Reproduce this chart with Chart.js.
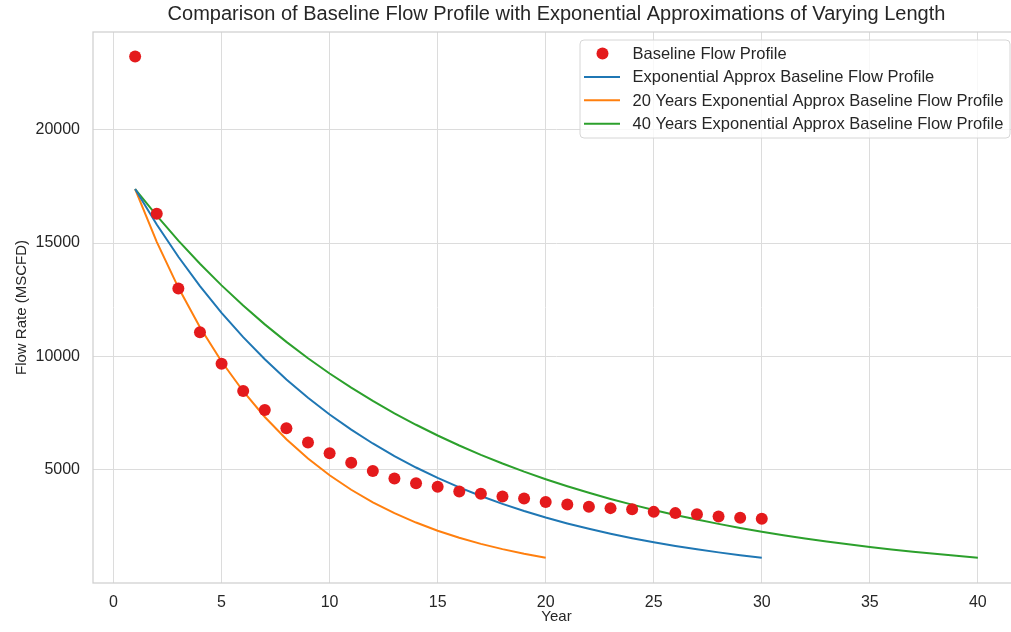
<!DOCTYPE html>
<html>
<head>
<meta charset="utf-8">
<script src="https://cdn.jsdelivr.net/npm/chart.js@4/dist/chart.umd.min.js"></script>
<style>
  html, body { margin: 0; padding: 0; background: #fff; overflow: hidden; }
  #wrap { width: 1026px; height: 632px; }
</style>
</head>
<body>
<div id="wrap"><canvas id="chart" width="1026" height="632"></canvas></div>
<script>
// values
const baselineYears = [1, 2, 3, 4, 5, 6, 7, 8, 9, 10, 11, 12, 13, 14, 15, 16, 17, 18, 19, 20,
  21, 22, 23, 24, 25, 26, 27, 28, 29, 30];
const baselineFlow = [23225, 16290, 13000, 11065, 9680, 8480, 7645, 6840, 6205, 5735,
  5310, 4955, 4620, 4415, 4255, 4045, 3945, 3825, 3740, 3580,
  3475, 3375, 3315, 3270, 3150, 3095, 3050, 2945, 2890, 2845];

const approxYears = [1, 2, 3, 4, 5, 6, 7, 8, 9, 10, 11, 12, 13, 14, 15, 16, 17, 18, 19, 20,
  21, 22, 23, 24, 25, 26, 27, 28, 29, 30, 31, 32, 33, 34, 35, 36, 37, 38, 39, 40];

const approxFlow = [17380, 15817, 14394, 13100, 11922, 10850, 9874, 8986, 8178, 7442,
  6773, 6164, 5610, 5105, 4646, 4228, 3848, 3502, 3187, 2900,
  2640, 2402, 2186, 1990, 1811, 1648, 1500, 1365, 1242, 1130];
const approx20Flow = [17380, 15052, 13035, 11289, 9777, 8467, 7333, 6350, 5500, 4763,
  4125, 3572, 3094, 2679, 2320, 2010, 1740, 1507, 1305, 1130];
const approx40Flow = [17380, 16204, 15107, 14085, 13132, 12243, 11414, 10642, 9922, 9250,
  8624, 8040, 7496, 6989, 6516, 6075, 5664, 5281, 4923, 4590,
  4280, 3990, 3720, 3468, 3234, 3015, 2811, 2621, 2443, 2278,
  2124, 1980, 1846, 1721, 1605, 1496, 1395, 1300, 1212, 1130];

const xTicks = [0, 5, 10, 15, 20, 25, 30, 35, 40];
const yTicks = [5000, 10000, 15000, 20000];

const FONT = '"Liberation Sans", Arial, sans-serif';
const TEXT = '#262626';
const GRID = '#dcdcdc';

function toPoints(xs, ys) {
  return ys.map((y, i) => ({ x: xs[i], y }));
}

// matplotlib-style frame round the plot area
const framePlugin = {
  id: 'frame',
  beforeDatasetsDraw(chart) {
    const { ctx, chartArea: a } = chart;
    ctx.save();
    ctx.strokeStyle = '#cfcfcf';
    ctx.lineWidth = 1.25;
    ctx.strokeRect(a.left, a.top, a.right - a.left, a.bottom - a.top);
    ctx.restore();
  }
};

// legend drawn inside the plot, upper right
const innerLegend = {
  id: 'innerLegend',
  afterDraw(chart) {
    const { ctx, chartArea: a } = chart;
    const w = 430, h = 98;
    const left = a.right - 10 - w;
    const top = a.top + 8;
    ctx.save();
    ctx.beginPath();
    ctx.roundRect(left, top, w, h, 4);
    ctx.fillStyle = 'rgba(255,255,255,0.8)';
    ctx.fill();
    ctx.strokeStyle = '#d6d6d6';
    ctx.lineWidth = 1;
    ctx.stroke();

    ctx.font = '16.5px ' + FONT;
    ctx.textBaseline = 'middle';
    chart.data.datasets.forEach((ds, i) => {
      const cy = top + 13.5 + i * 23.4;
      if (ds.showLine === false) {
        ctx.beginPath();
        ctx.arc(left + 22.5, cy, 6, 0, Math.PI * 2);
        ctx.fillStyle = ds.backgroundColor;
        ctx.fill();
      } else {
        ctx.beginPath();
        ctx.moveTo(left + 4, cy);
        ctx.lineTo(left + 40, cy);
        ctx.strokeStyle = ds.borderColor;
        ctx.lineWidth = 2;
        ctx.stroke();
      }
      ctx.fillStyle = TEXT;
      ctx.fillText(ds.label, left + 52.5, cy + 1);
    });
    ctx.restore();
  }
};

new Chart(document.getElementById('chart'), {
  type: 'scatter',
  data: {
    datasets: [
      {
        label: 'Baseline Flow Profile',
        data: toPoints(baselineYears, baselineFlow),
        showLine: false,
        pointRadius: 6,
        pointHoverRadius: 6,
        backgroundColor: '#e41a1c',
        borderWidth: 0
      },
      {
        label: 'Exponential Approx Baseline Flow Profile',
        data: toPoints(approxYears, approxFlow),
        showLine: true,
        pointRadius: 0,
        borderColor: '#1f77b4',
        borderWidth: 2
      },
      {
        label: '20 Years Exponential Approx Baseline Flow Profile',
        data: toPoints(approxYears, approx20Flow),
        showLine: true,
        pointRadius: 0,
        borderColor: '#ff7f0e',
        borderWidth: 2
      },
      {
        label: '40 Years Exponential Approx Baseline Flow Profile',
        data: toPoints(approxYears, approx40Flow),
        showLine: true,
        pointRadius: 0,
        borderColor: '#2ca02c',
        borderWidth: 2
      }
    ]
  },
  options: {
    responsive: false,
    animation: false,
    layout: { padding: 0 },
    plugins: {
      legend: { display: false },
      tooltip: { enabled: false },
      title: {
        display: true,
        fullSize: false,
        text: 'Comparison of Baseline Flow Profile with Exponential Approximations of Varying Length',
        color: TEXT,
        font: { family: FONT, size: 20, weight: 'normal', lineHeight: 1.2 },
        padding: { top: 2, bottom: 6 }
      }
    },
    scales: {
      x: {
        type: 'linear',
        min: -0.95,
        max: 41.95,
        afterBuildTicks(scale) {
          scale.ticks = xTicks.map(v => ({ value: v }));
        },
        afterFit(scale) {
          scale.height = 49;
        },
        grid: { color: GRID, lineWidth: 1, drawTicks: false },
        border: { display: false },
        ticks: {
          color: TEXT,
          padding: 10,
          maxRotation: 0,
          font: { family: FONT, size: 16 }
        },
        title: {
          display: true,
          text: 'Year',
          color: TEXT,
          font: { family: FONT, size: 15 },
          padding: { top: 0, bottom: 6 }
        }
      },
      y: {
        type: 'linear',
        min: 15,
        max: 24300,
        afterBuildTicks(scale) {
          scale.ticks = yTicks.map(v => ({ value: v }));
        },
        afterFit(scale) {
          scale.width = 93;
        },
        grid: { color: GRID, lineWidth: 1, drawTicks: false },
        border: { display: false },
        ticks: {
          color: TEXT,
          padding: 13,
          font: { family: FONT, size: 16 },
          callback: v => String(v)
        },
        title: {
          display: true,
          text: 'Flow Rate (MSCFD)',
          color: TEXT,
          font: { family: FONT, size: 15 },
          padding: { top: 13, bottom: 0 }
        }
      }
    }
  },
  plugins: [framePlugin, innerLegend]
});
</script>
</body>
</html>
